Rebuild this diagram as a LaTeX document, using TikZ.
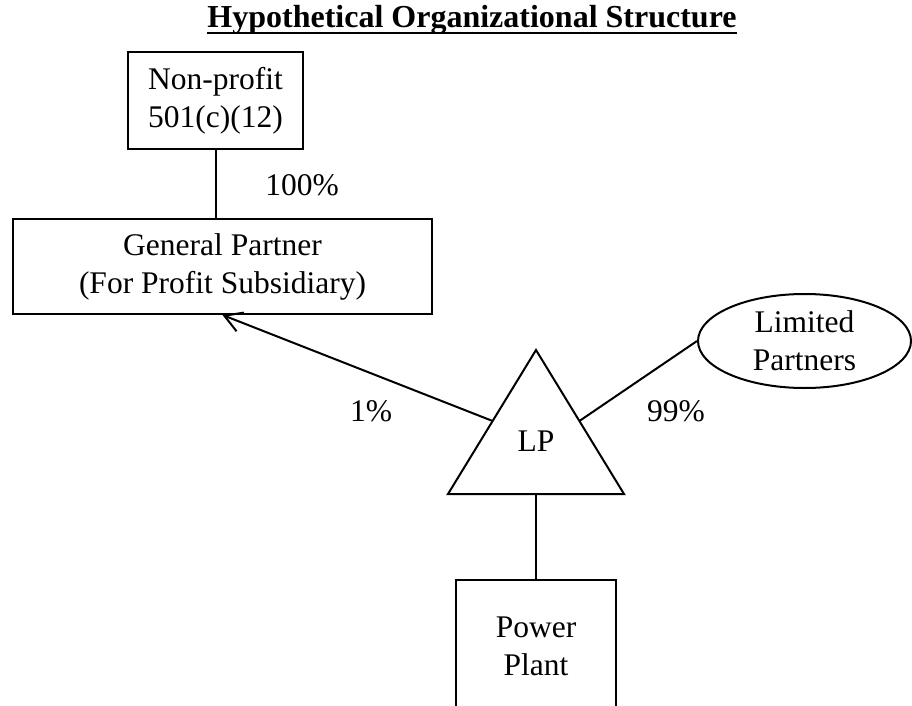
\documentclass[tikz,border=0pt]{standalone}
\usepackage{fontspec}
\setmainfont{Liberation Serif}
\usetikzlibrary{shapes.geometric,arrows.meta,calc}
\begin{document}
\begin{tikzpicture}[x=1pt,y=-1pt,
  every node/.style={font=\fontsize{31.5}{38}\selectfont, inner sep=0pt},
  box/.style={draw, line width=2pt, align=center},
  conn/.style={line width=2pt},
  pct/.style={anchor=base}]
\clip (0,0) rectangle (912,706);
% title
\node[anchor=base, font=\fontsize{32}{38}\selectfont\bfseries] (title) at (472,28) {Hypothetical Organizational Structure};
\draw[line width=2.5pt] ([yshift=-5pt]title.base west) -- ([yshift=-5pt]title.base east);
% boxes
\node[box, minimum width=175, minimum height=97] (np) at (215.5,100.5) {Non-profit\\501(c)(12)};
\node[box, minimum width=419, minimum height=95] (gp) at (222.5,266.5) {General Partner\\(For Profit Subsidiary)};
\node[draw, ellipse, line width=2pt, minimum width=213, minimum height=94, align=center] (lim) at (804.5,341) {Limited\\Partners};
\node[box, minimum width=160, minimum height=132] (pp) at (536,646) {Power\\Plant};
% triangle LP
\coordinate (apex) at (536,350);
\coordinate (bl) at (448,494);
\coordinate (br) at (624,494);
\draw[line width=2pt, line join=miter] (apex) -- (bl) -- (br) -- cycle;
\node[anchor=base] (lp) at (536,451) {LP};
\coordinate (lpl) at ($(apex)!0.493!(bl)$);
\coordinate (lpr) at ($(apex)!0.493!(br)$);
\coordinate (lpb) at ($(bl)!0.5!(br)$);
% connectors
\draw[conn] (np.south) -- (np.south |- gp.north);
\draw[conn, -{Straight Barb[length=17pt,width=20pt]}] (lpl) -- (gp.south);
\draw[conn] (lpr) -- (lim.west);
\draw[conn] (lpb) -- (lpb |- pp.north);
% labels
\node[pct] (l100) at (302,195) {100\%};
\node[pct] (l1) at (371,421) {1\%};
\node[pct] (l99) at (676,421) {99\%};
\end{tikzpicture}
\end{document}
